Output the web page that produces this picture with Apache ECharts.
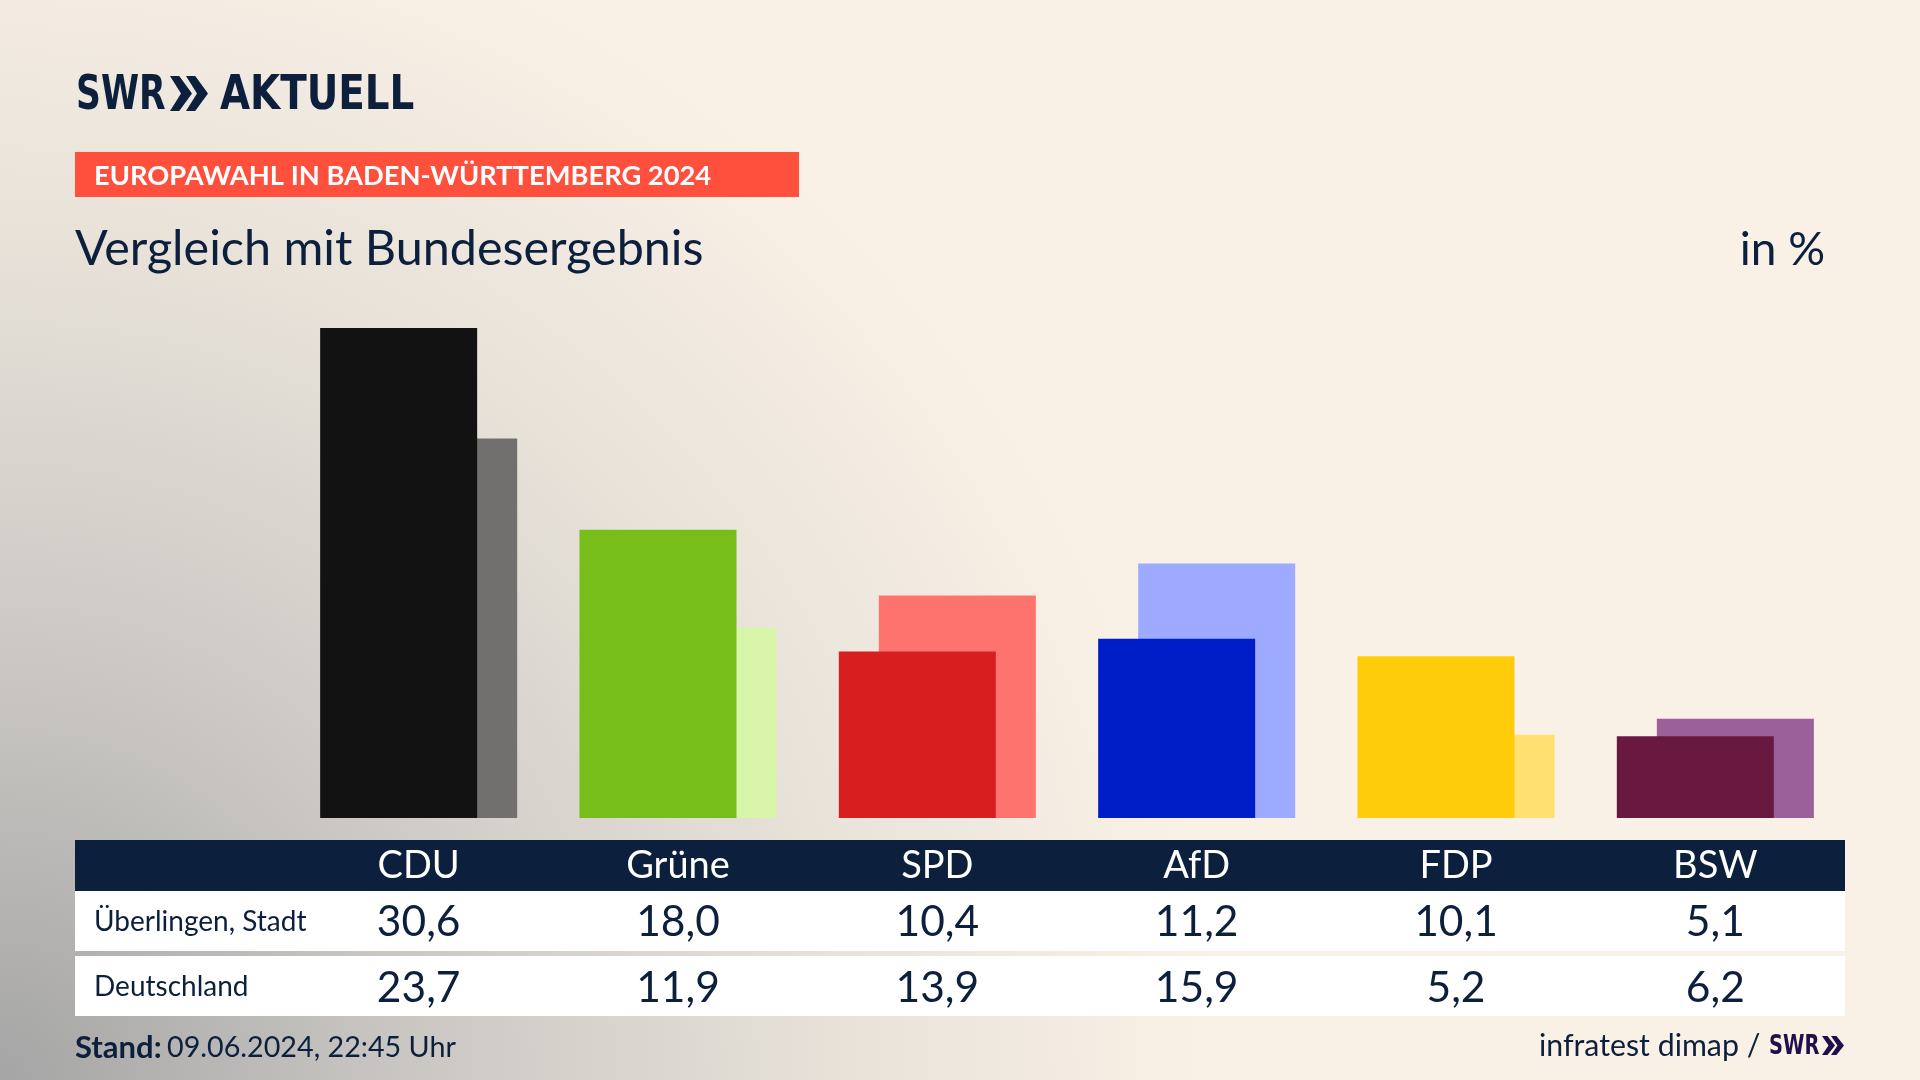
<!DOCTYPE html>
<html>
<head>
<meta charset="utf-8">
<title>Vergleich mit Bundesergebnis</title>
<style>
html, body { margin: 0; padding: 0; background: #faf1e6; }
#main { width: 1920px; height: 1080px; }
</style>
<script src="https://cdn.jsdelivr.net/npm/echarts@6/dist/echarts.min.js"></script>
</head>
<body>
<div id="main"></div>
<script>
var parties = ['CDU', 'Grüne', 'SPD', 'AfD', 'FDP', 'BSW'];
var ueberlingen = [30.6, 18.0, 10.4, 11.2, 10.1, 5.1];
var deutschland = [23.7, 11.9, 13.9, 15.9, 5.2, 6.2];

var frontColors = ['#121212', '#78be1b', '#d81f1f', '#001ec8', '#ffcc0b', '#69183f'];
var backColors = ['#72706e', '#d8f5a9', '#ff736e', '#9daaff', '#ffe070', '#9b5f9a'];

var NAVY = '#0c1f3c';
var FONT = 'Lato';
var LOGO_FONT = '"DejaVu Sans Condensed", sans-serif';

function fmt(v) { return v.toFixed(1).replace('.', ','); }

function coloured(values, colors) {
    return values.map(function (v, i) {
        return { value: v, itemStyle: { color: colors[i] } };
    });
}

function rowAxis(labels, margin, color, size) {
    return {
        type: 'category',
        position: 'bottom',
        z: 5,
        data: labels,
        axisLine: { show: false },
        axisTick: { show: false },
        axisLabel: {
            interval: 0,
            margin: margin,
            verticalAlign: 'middle',
            color: color,
            fontFamily: FONT,
            fontSize: size
        }
    };
}

function rect(x, y, w, h, fill) {
    return { type: 'rect', z: 0, silent: true, shape: { x: x, y: y, width: w, height: h }, style: { fill: fill } };
}

function text(str, x, y, size, color, weight, align) {
    return {
        type: 'text', z: 10, silent: true,
        style: {
            text: str, x: x, y: y,
            fontFamily: FONT, fontSize: size, fontWeight: weight || 'normal',
            fill: color || NAVY, align: align || 'left', verticalAlign: 'middle'
        }
    };
}

// logo lettering is much narrower than any installed bold, so squeeze it
function logoText(str, x, y, size, color, squeeze) {
    return {
        type: 'text', z: 10, silent: true,
        x: x, y: y, scaleX: squeeze,
        style: {
            text: str, x: 0, y: 0,
            fontFamily: LOGO_FONT, fontSize: size, fontWeight: 'bold',
            fill: color, align: 'left', verticalAlign: 'middle'
        }
    };
}

// the two arrows of the SWR logo
function chevrons(x, y, h, w, gap, color) {
    return [0, 1].map(function (i) {
        var x0 = x + i * gap;
        return {
            type: 'polygon', z: 10, silent: true,
            shape: { points: [[x0, y], [x0 + w * 0.42, y], [x0 + w, y + h / 2], [x0 + w * 0.42, y + h], [x0, y + h], [x0 + w * 0.5, y + h / 2]] },
            style: { fill: color }
        };
    });
}

var chart = echarts.init(document.getElementById('main'));

var option = {
    animation: false,
    backgroundColor: new echarts.graphic.RadialGradient(0, 1, 1.12, [
        { offset: 0, color: '#a5a5a5' },
        { offset: 0.35, color: '#cbc8c4' },
        { offset: 0.7, color: '#e8e2d9' },
        { offset: 1, color: '#faf1e6' }
    ]),
    grid: { left: 289, right: 75, top: 328, bottom: 262 },
    xAxis: [
        rowAxis(parties, 48, '#ffffff', 38),
        rowAxis(ueberlingen.map(fmt), 104, NAVY, 42.5),
        rowAxis(deutschland.map(fmt), 170, NAVY, 42.5)
    ],
    yAxis: { type: 'value', min: 0, max: 30.6, show: false, splitLine: { show: false } },
    series: [
        {
            name: 'Überlingen, Stadt',
            type: 'bar',
            z: 3,
            barWidth: 157,
            barGap: '-74.5%',
            data: coloured(ueberlingen, frontColors)
        },
        {
            name: 'Deutschland',
            type: 'bar',
            z: 2,
            barWidth: 157,
            data: coloured(deutschland, backColors)
        }
    ],
    graphic: [
        rect(75, 152, 724, 45, '#ff4f3d'),
        rect(75, 840, 1770, 51, NAVY),
        rect(75, 891, 1770, 60, '#ffffff'),
        rect(75, 956, 1770, 60, '#ffffff'),
        logoText('SWR', 76, 97, 48, NAVY, 0.8),
        logoText('AKTUELL', 220, 97, 48, NAVY, 0.9),
        text('EUROPAWAHL IN BADEN-WÜRTTEMBERG 2024', 94, 176, 27.3, '#ffffff', 'bold'),
        text('Vergleich mit Bundesergebnis', 75, 249, 48.5),
        text('in %', 1825, 250, 46, NAVY, 'normal', 'right'),
        text('Überlingen, Stadt', 94, 922, 28),
        text('Deutschland', 94, 987, 28),
        text('Stand:', 75, 1048, 31, NAVY, 'bold'),
        text('09.06.2024, 22:45 Uhr', 167, 1048, 28.7),
        text('infratest dimap /', 1539, 1046, 30.3),
        logoText('SWR', 1769, 1047, 27, '#1f0f4a', 0.8)
    ].concat(chevrons(170, 76, 35, 22, 16, NAVY), chevrons(1822, 1036, 19, 13, 9, '#1f0f4a'))
};

chart.setOption(option);
window.addEventListener('resize', function () { chart.resize(); });
</script>
</body>
</html>
